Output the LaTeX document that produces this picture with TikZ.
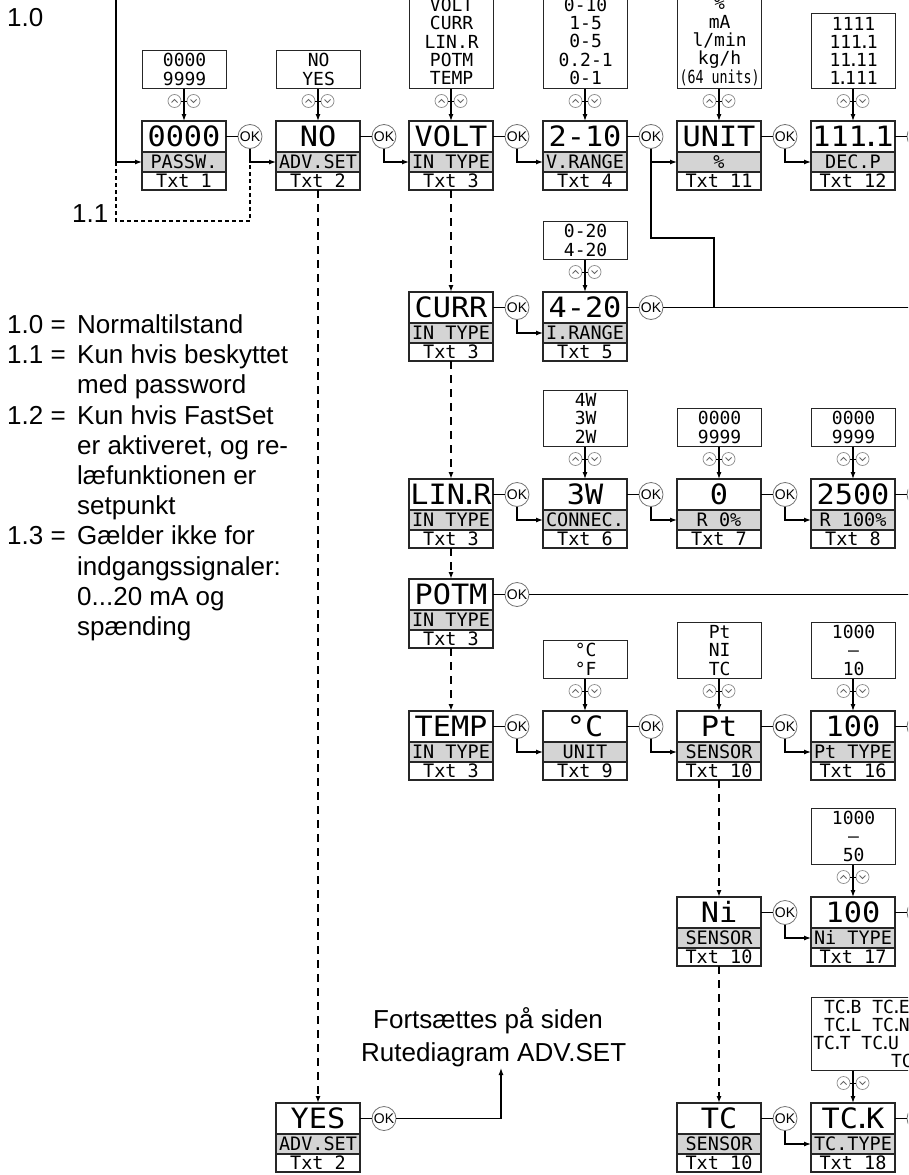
\documentclass[tikz,border=0pt]{standalone}
\usepackage{fontspec}
\usepackage{graphicx}
\setmainfont{Liberation Sans}
\newfontfamily\lcdfont{DejaVu Sans Mono}
\newfontfamily\lcdbigfont[FakeStretch=1.08]{DejaVu Sans Mono}
\usetikzlibrary{arrows.meta}
\newcommand\nd{\kern-5pt.\kern-5pt}
\newcommand\sd{\kern-3pt.\kern-3pt}
\newcommand\lcdbx[6]{%
  \node[lcdtop] (#1-top) at (#2,#3) {#4};
  \node[lcdmid] (#1-mid) at (#2,#3+31) {#5};
  \node[lcdbot] (#1-bot) at (#2,#3+51) {#6};
  \node[okc] (#1-ok) at (#2+108,#3+15.5) {OK};
  \draw[ln] (#1-top.east) -- (#1-ok.west);
}
\newcommand\optsbx[6][84]{%
  \node[optbox, minimum width=#1pt, minimum height=#5pt, anchor=south west] (#2-opt) at (#3,#4-32) {#6};
  \node[udc] (#2-up) at (#3+32.5,#4-20) {};
  \node[udc] (#2-dn) at (#3+51.5,#4-20) {};
  \draw[chev] (#3+29.5,#4-18.5) -- (#3+32.5,#4-21.5) -- (#3+35.5,#4-18.5);
  \draw[chev] (#3+48.5,#4-21.5) -- (#3+51.5,#4-18.5) -- (#3+54.5,#4-21.5);
  \draw[ln,line width=0.9pt] (#2-up.east) -- (#2-dn.west);
  \draw[arr] (#2-top.north |- #2-opt.south) -- (#2-top.north);
}
\newcommand\okto[2]{\draw[arr] (#1-ok.south) |- (#2-mid.west);}
\begin{document}
\begin{tikzpicture}[x=1pt,y=-1pt,
 lcdpart/.style={draw=black!85, line width=1.4pt, minimum width=84pt, inner sep=0pt, outer sep=0pt, anchor=north west},
 lcdtop/.style={lcdpart, minimum height=31pt, text height=20pt, text depth=0pt, font=\lcdbigfont\fontsize{28}{28}\selectfont},
 lcdmid/.style={lcdpart, minimum height=20pt, fill=black!17, text height=13pt, text depth=0pt, font=\lcdfont\fontsize{18.5}{18.5}\selectfont},
 lcdbot/.style={lcdpart, minimum height=18pt, text height=13pt, text depth=0pt, font=\lcdfont\fontsize{18.5}{18.5}\selectfont},
 optbox/.style={draw=black!85, line width=1.2pt, inner sep=0pt, align=center, font=\lcdfont\fontsize{18}{18.3}\selectfont},
 okc/.style={circle, draw=black!55, line width=0.8pt, minimum size=24pt, inner sep=0pt, fill=white, font=\fontsize{14}{14}\selectfont},
 udc/.style={circle, draw=black!45, line width=0.7pt, minimum size=13pt, inner sep=0pt},
 chev/.style={draw=black!60, line width=0.8pt},
 ln/.style={draw=black, line width=1.2pt},
 arr/.style={ln, -{Latex[length=7pt,width=5pt]}},
 dsharr/.style={arr, dash pattern=on 8pt off 6pt, line width=1.8pt},
 dshln/.style={ln, dash pattern=on 4pt off 3pt, line width=1.5pt},
 lbl/.style={inner sep=0pt, anchor=base west, font=\fontsize{26}{26}\selectfont}]
\useasboundingbox (0,0) rectangle (908,1175);
\clip (0,0) rectangle (908,1175);
\fill[white] (0,0) rectangle (908,1175);

% ---- row 1
\lcdbx{passw}{142}{121}{0000}{PASSW.}{Txt 1}
\optsbx{passw}{142}{121}{38}{0000\\9999}
\lcdbx{no}{276}{121}{NO}{ADV.SET}{Txt 2}
\optsbx{no}{276}{121}{38}{NO\\YES}
\lcdbx{volt}{409}{121}{VOLT}{IN TYPE}{Txt 3}
\optsbx{volt}{409}{121}{94}{VOLT\\CURR\\LIN.R\\POTM\\TEMP}
\lcdbx{vr}{543}{121}{2-10}{V.RANGE}{Txt 4}
\optsbx{vr}{543}{121}{94}{0-10\\1-5\\0-5\\0.2-1\\0-1}
\lcdbx{unit}{677}{121}{UNIT}{\%}{Txt 11}
\optsbx{unit}{677}{121}{94}{\%\\mA\\l/min\\kg/h\\\scalebox{0.74}[1]{(64 units)}}
\lcdbx{dec}{811}{121}{111\nd 1}{DEC.P}{Txt 12}
\optsbx{dec}{811}{121}{75}{1111\\111\sd 1\\11\sd 11\\1\sd 111}
% ---- CURR row
\lcdbx{curr}{409}{292}{CURR}{IN TYPE}{Txt 3}
\lcdbx{ir}{543}{292}{4-20}{I.RANGE}{Txt 5}
\optsbx{ir}{543}{292}{38}{0-20\\4-20}
% ---- LIN.R row
\lcdbx{lin}{409}{479}{LIN\nd R}{IN TYPE}{Txt 3}
\lcdbx{con}{543}{479}{3W}{CONNEC.}{Txt 6}
\optsbx{con}{543}{479}{56}{4W\\3W\\2W}
\lcdbx{rz}{677}{479}{0}{R 0\%}{Txt 7}
\optsbx{rz}{677}{479}{38}{0000\\9999}
\lcdbx{rh}{811}{479}{2500}{R 100\%}{Txt 8}
\optsbx{rh}{811}{479}{38}{0000\\9999}
% ---- POTM
\lcdbx{potm}{409}{579}{POTM}{IN TYPE}{Txt 3}
% ---- TEMP row
\lcdbx{temp}{409}{711}{TEMP}{IN TYPE}{Txt 3}
\lcdbx{tu}{543}{711}{°C}{UNIT}{Txt 9}
\optsbx{tu}{543}{711}{38}{°C\\°F}
\lcdbx{sens}{677}{711}{Pt}{SENSOR}{Txt 10}
\optsbx{sens}{677}{711}{56}{Pt\\NI\\TC}
\lcdbx{pt}{811}{711}{100}{Pt TYPE}{Txt 16}
\optsbx{pt}{811}{711}{56}{1000\\–\\10}
% ---- Ni row
\lcdbx{ni}{677}{897}{Ni}{SENSOR}{Txt 10}
\lcdbx{nit}{811}{897}{100}{Ni TYPE}{Txt 17}
\optsbx{nit}{811}{897}{56}{1000\\–\\50}
% ---- TC row
\lcdbx{tc}{677}{1103}{TC}{SENSOR}{Txt 10}
\lcdbx{tct}{811}{1103}{TC\nd K}{TC.TYPE}{Txt 18}
\optsbx[207]{tct}{811}{1103}{73}{TC\sd B TC\sd E TC\sd J TC\sd K\\TC\sd L TC\sd N TC\sd R TC\sd S\\TC\sd T TC\sd U TC\sd W3 TC\sd W5\\TC\sd LR}
% ---- YES
\lcdbx{yes}{276}{1103}{YES}{ADV.SET}{Txt 2}

% ---- OK transitions
\okto{passw}{no}
\okto{no}{volt}
\okto{volt}{vr}
\okto{vr}{unit}
\okto{unit}{dec}
\okto{curr}{ir}
\okto{lin}{con}
\okto{con}{rz}
\okto{rz}{rh}
\okto{temp}{tu}
\okto{tu}{sens}
\okto{sens}{pt}
\okto{ni}{nit}
\okto{tc}{tct}

% junction from V.RANGE to the I.RANGE output line
\coordinate (j2) at (714,238);
\draw[ln] (vr-ok.south) |- (j2) -- (j2 |- ir-ok);
\coordinate (eir) at (915,307.5);
\draw[ln] (ir-ok.east) -- (eir);
\coordinate (epotm) at (915,594.5);
\draw[ln] (potm-ok.east) -- (epotm);

% dashed selection arrows
\draw[dsharr] (no-bot.south) -- (yes-top.north);
\draw[dsharr] (volt-bot.south) -- (curr-top.north);
\draw[dsharr] (curr-bot.south) -- (lin-top.north);
\draw[dsharr] (lin-bot.south) -- (potm-top.north);
\draw[dsharr] (potm-bot.south) -- (temp-top.north);
\draw[dsharr] (sens-bot.south) -- (ni-top.north);
\draw[dsharr] (ni-bot.south) -- (tc-top.north);

% entry line 1.0 and bypass 1.1
\coordinate (t0) at (116,-2);
\draw[arr] (t0) |- (passw-mid.west);
\coordinate (d2) at (116,221);
\draw[dshln] (t0 |- passw-mid.west) -- (d2) -| (passw-ok.south |- no-mid.west);

% continuation
\coordinate (rt) at (501,1068);
\draw[arr] (yes-ok.east) -| (rt);

% labels
\node[lbl] (l10) at (7,27) {1.0};
\node[lbl] (l11) at (72,222) {1.1};
\node[lbl] (k0a) at (7,333.5) {1.0 =};
\node[lbl] (k0b) at (77,333.5) {Normaltilstand};
\node[lbl] (k1a) at (7,363.7) {1.1 =};
\node[lbl] (k1b) at (77,363.7) {Kun hvis beskyttet};
\node[lbl] (k1c) at (77,393.9) {med password};
\node[lbl] (k2a) at (7,424.1) {1.2 =};
\node[lbl] (k2b) at (77,424.1) {Kun hvis FastSet};
\node[lbl] (k2c) at (77,454.3) {er aktiveret, og re-};
\node[lbl] (k2d) at (77,484.5) {læfunktionen er};
\node[lbl] (k2e) at (77,514.7) {setpunkt};
\node[lbl] (k3a) at (7,544.9) {1.3 =};
\node[lbl] (k3b) at (77,544.9) {Gælder ikke for};
\node[lbl] (k3c) at (77,575.1) {indgangssignaler:};
\node[lbl] (k3d) at (77,605.3) {0...20 mA og};
\node[lbl] (k3e) at (77,635.5) {spænding};
\node[lbl] (f1) at (373,1028) {Fortsættes på siden};
\node[lbl] (f2) at (361,1061.5) {Rutediagram ADV.SET};
\end{tikzpicture}
\end{document}
